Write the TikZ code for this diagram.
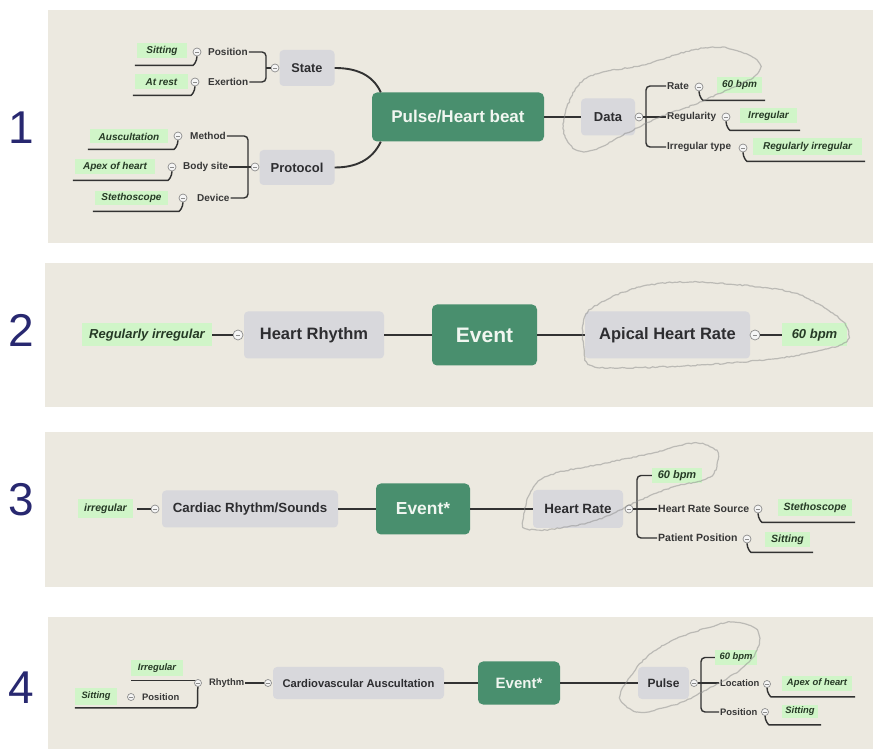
\documentclass[tikz,border=0pt]{standalone}
\usepackage{fontspec}
\setmainfont{Liberation Sans}
\usepackage{tikz}
\usetikzlibrary{positioning, calc, decorations.pathmorphing}
\definecolor{parch}{RGB}{236, 233, 224}
\definecolor{hubgreen}{RGB}{73, 143, 110}
\definecolor{hubtext}{RGB}{240, 246, 240}
\definecolor{topicgray}{RGB}{216, 216, 220}
\definecolor{topictext}{RGB}{45, 45, 48}
\definecolor{leaftext}{RGB}{55, 55, 55}
\definecolor{valgreen}{RGB}{208, 245, 200}
\definecolor{valtext}{RGB}{38, 58, 38}
\definecolor{linkgray}{RGB}{50, 50, 50}
\definecolor{knobgray}{RGB}{140, 140, 140}
\definecolor{digitblue}{RGB}{40, 40, 112}
\newcommand{\fz}[1]{\fontsize{#1}{#1}\selectfont}
\tikzset{
  panel/.style={fill=parch},
  hub/.style={rounded corners=5pt, fill=hubgreen, text=hubtext, inner sep=0pt,
              font=\bfseries\fz{#1}},
  topic/.style={rounded corners=4pt, fill=topicgray, text=topictext, inner sep=0pt,
                font=\bfseries\fz{#1}},
  leaf/.style={text=leaftext, inner sep=1pt, font=\bfseries\fz{#1}},
  val/.style={fill=valgreen, text=valtext, inner sep=0pt, font=\bfseries\itshape\fz{#1}},
  knob/.style={circle, draw=knobgray, fill=white!92!gray, line width=0.7pt,
               minimum size=#1, inner sep=0pt,
               path picture={\draw[knobgray, line width=0.6pt]
                 ($(path picture bounding box.west)!0.28!(path picture bounding box.east)$) --
                 ($(path picture bounding box.west)!0.72!(path picture bounding box.east)$);}},
  spine/.style={draw=linkgray, line width=1.9pt},
  twig/.style={draw=linkgray, line width=1.4pt, rounded corners=4pt},
  scrib/.style={draw=black!45, line width=1.2pt, opacity=0.5, decorate,
                decoration={random steps, segment length=2.5pt, amplitude=0.6pt}},
  digit/.style={text=digitblue, font=\fz{46}},
}
\begin{document}
\begin{tikzpicture}[x=1pt, y=1pt]
  \useasboundingbox (0,0) rectangle (877,749);
  \fill[white] (0,0) rectangle (877,749);

  % ---------- panel 1
  \fill[panel] (48,506) rectangle (873,739);
  \node[digit] (n1) at (21,621) {1};
  \node[hub=17, minimum width=172pt, minimum height=49pt] (pulse) at (458,632) {Pulse/Heart beat};
  \node[topic=12.7, minimum width=55pt, minimum height=36pt] (state) at (307,681) {State};
  \node[topic=13, minimum width=75pt, minimum height=35pt] (proto) at (297,581.5) {Protocol};
  \node[topic=13, minimum width=54pt, minimum height=37pt] (data) at (608,632) {Data};
  \draw[spine] (state.east) to[out=0, in=115] ($(pulse.north west)+(9,0)$);
  \draw[spine] (proto.east) to[out=0, in=-115] ($(pulse.south west)+(9,0)$);
  \draw[spine] (pulse) -- (data);
  % state branch
  \node[knob=8pt] (kstate) at (275,681) {};
  \coordinate (bstate) at (266,681);
  \node[leaf=10, anchor=west] (pos1) at (207,697) {Position};
  \node[leaf=10, anchor=west] (exer1) at (207,667) {Exertion};
  \draw[twig] (pos1.east) -| (bstate) |- (exer1.east);
  \draw[twig] (bstate) -- (kstate.west);
  \node[knob=8pt] (kpos1) at (197,697) {};
  \node[knob=8pt] (kexer1) at (195,667) {};
  \node[val=10, minimum width=50pt, minimum height=15pt] (sit1) at (162,698.5) {Sitting};
  \node[val=10, minimum width=53pt, minimum height=15pt] (rest1) at (161.5,667) {At rest};
  % protocol branch
  \node[knob=8pt] (kproto) at (255,582) {};
  \coordinate (bproto) at (248,582);
  \node[leaf=10, anchor=west] (meth1) at (189,613) {Method};
  \node[leaf=10, anchor=west] (site1) at (182,582) {Body site};
  \node[leaf=10, anchor=west] (dev1) at (196,551) {Device};
  \draw[twig] (meth1.east) -| (bproto) |- (dev1.east);
  \draw[twig] (site1.east) -- (kproto.west);
  \node[knob=8pt] (kmeth1) at (178,613) {};
  \node[knob=8pt] (ksite1) at (172,582) {};
  \node[knob=8pt] (kdev1) at (183,551) {};
  \node[val=10, minimum width=78pt, minimum height=14pt] (ausc1) at (129,612.5) {Auscultation};
  \node[val=10, minimum width=80pt, minimum height=15pt] (apex1) at (115,582) {Apex of heart};
  \node[val=10, minimum width=73pt, minimum height=14pt] (steth1) at (131.5,551) {Stethoscope};
  % data branch
  \node[knob=8pt] (kdata) at (639,632) {};
  \coordinate (bdata) at (646,632);
  \node[leaf=10, anchor=west] (rate1) at (666,663) {Rate};
  \node[leaf=10, anchor=west] (regul1) at (666,632) {Regularity};
  \node[leaf=10, anchor=west] (irrt1) at (666,602) {Irregular type};
  \draw[twig] (rate1.west) -| (bdata) |- (irrt1.west);
  \draw[twig] (kdata.east) -- (regul1.west);
  \node[knob=8pt] (krate1) at (699,662) {};
  \node[knob=8pt] (kregul1) at (726,632) {};
  \node[knob=8pt] (kirrt1) at (743,601) {};
  \node[val=10, minimum width=45pt, minimum height=16pt] (bpm1) at (739.5,664) {60 bpm};
  \node[val=10, minimum width=57pt, minimum height=15pt] (irr1) at (768.5,633.5) {Irregular};
  \node[val=10, minimum width=109pt, minimum height=17pt] (regirr1) at (807.5,602.5) {Regularly irregular};

  % ---------- panel 2
  \fill[panel] (45,342) rectangle (873,486);
  \node[digit] (n2) at (21,419) {2};
  \node[hub=21, minimum width=105pt, minimum height=61pt] (ev2) at (484.5,414) {Event};
  \node[topic=16.5, minimum width=140pt, minimum height=47pt] (rhy2) at (314,414) {Heart Rhythm};
  \node[topic=16.5, minimum width=165pt, minimum height=47pt] (ahr2) at (667.5,414) {Apical Heart Rate};
  \node[knob=10pt] (krhy2) at (238,414) {};
  \node[knob=10pt] (kahr2) at (755,414) {};
  \node[val=13, minimum width=130pt, minimum height=23pt] (ri2) at (147,414) {Regularly irregular};
  \node[val=13, minimum width=65pt, minimum height=23pt] (bpm2) at (814.5,414) {60 bpm};
  \draw[spine] (rhy2) -- (ev2);
  \draw[spine] (ev2) -- (ahr2);
  \draw[spine] (krhy2) -- (ri2);
  \draw[spine] (kahr2) -- (bpm2);

  % ---------- panel 3
  \fill[panel] (45,162) rectangle (873,317);
  \node[digit] (n3) at (21,249) {3};
  \node[hub=17.4, minimum width=94pt, minimum height=51pt] (ev3) at (423,240) {Event*};
  \node[topic=13.3, minimum width=176pt, minimum height=37pt] (crs3) at (250,240) {Cardiac Rhythm/Sounds};
  \node[topic=13.4, minimum width=90pt, minimum height=38pt] (hr3) at (578,240) {Heart Rate};
  \node[knob=8pt] (kcrs3) at (155,240) {};
  \node[val=10.5, minimum width=55pt, minimum height=19pt] (irr3) at (105.5,240) {irregular};
  \draw[spine] (crs3) -- (ev3);
  \draw[spine] (ev3) -- (hr3);
  \draw[twig] (kcrs3.west) -- ([xshift=4pt]irr3.east);
  \node[knob=8pt] (khr3) at (629,240) {};
  \coordinate (bhr3) at (637,240);
  \node[val=11, minimum width=50pt, minimum height=15pt] (bpm3) at (677,273.5) {60 bpm};
  \node[leaf=10.5, anchor=west] (hrs3) at (657,240) {Heart Rate Source};
  \node[leaf=10.5, anchor=west] (pp3) at (657,211) {Patient Position};
  \draw[twig] (bpm3.west) -| (bhr3) |- (pp3.west);
  \draw[twig] (khr3.east) -- (hrs3.west);
  \node[knob=8pt] (khrs3) at (758,240) {};
  \node[knob=8pt] (kpp3) at (747,210) {};
  \node[val=10.5, minimum width=74pt, minimum height=17pt] (steth3) at (815,241.5) {Stethoscope};
  \node[val=10.5, minimum width=45pt, minimum height=15pt] (sit3) at (787.5,209.5) {Sitting};

  % ---------- panel 4
  \fill[panel] (48,0) rectangle (873,132);
  \node[digit] (n4) at (21,61) {4};
  \node[hub=15, minimum width=82pt, minimum height=43pt] (ev4) at (519,66) {Event*};
  \node[topic=11.2, minimum width=171pt, minimum height=32pt] (ca4) at (358.5,66) {Cardiovascular Auscultation};
  \node[topic=12, minimum width=51pt, minimum height=32pt] (pul4) at (663.5,66) {Pulse};
  \draw[spine] (ca4) -- (ev4);
  \draw[spine] (ev4) -- (pul4);
  \node[knob=7pt] (kca4) at (268,66) {};
  \node[leaf=9.4, anchor=west] (rhy4) at (208,66) {Rhythm};
  \draw[twig] (rhy4.east) -- (kca4.west);
  \node[knob=7pt] (krhy4) at (198,66) {};
  \node[val=9.4, minimum width=52pt, minimum height=16pt] (irr4) at (157,81) {Irregular};
  \node[leaf=9.4, anchor=west] (pos4) at (141,52) {Position};
  \node[knob=7pt] (kpos4) at (131,52) {};
  \node[val=9.3, minimum width=42pt, minimum height=17pt] (sit4) at (96,52.5) {Sitting};
  \draw[twig] (krhy4.north west) -- (krhy4.north west -| irr4.west);
  \draw[twig] (krhy4.south) to[out=-100, in=0] ++(-7,-21) coordinate (h) -- (h -| sit4.west);
  \node[knob=7pt] (kpul4) at (694,66) {};
  \coordinate (bpul4) at (701,66);
  \node[val=9.4, minimum width=42pt, minimum height=15pt] (bpm4) at (736,91.5) {60 bpm};
  \node[leaf=9.4, anchor=west] (loc4) at (719,66) {Location};
  \node[leaf=9.4, anchor=west] (pos4r) at (719,37) {Position};
  \draw[twig] (bpm4.west) -| (bpul4) |- (pos4r.west);
  \draw[twig] (kpul4.east) -- (loc4.west);
  \node[knob=7pt] (kloc4) at (767,65) {};
  \node[knob=7pt] (kpos4r) at (765,37) {};
  \node[val=9.4, minimum width=70pt, minimum height=15pt] (apex4) at (817,66) {Apex of heart};
  \node[val=9.4, minimum width=36pt, minimum height=13pt] (sit4r) at (800,37.5) {Sitting};

  % underlines of the values, left and right
  \foreach \k/\v in {kpos1/sit1, kexer1/rest1, kmeth1/ausc1, ksite1/apex1, kdev1/steth1}
    \draw[twig] (\k.south) to[out=-90, in=0] ++(-8,-9) coordinate (h) -- ($(h -| \v.west)+(-2,0)$);
  \foreach \k/\v in {krate1/bpm1, kregul1/irr1, kirrt1/regirr1, khrs3/steth3, kpp3/sit3, kloc4/apex4, kpos4r/sit4r}
    \draw[twig] (\k.south) to[out=-90, in=180] ++(8,-9) coordinate (h) -- ($(h -| \v.east)+(3,0)$);

  % pencil loops
  \draw[scrib] plot[smooth cycle, tension=0.6] coordinates {(577,662) (600,676) (643,684) (693,699)
    (727,701) (757,689) (758,676) (743,666) (727,659) (693,644) (660,632) (627,616) (593,599)
    (573,601) (563,625)};
  \draw[scrib] plot[smooth cycle, tension=0.6] coordinates {(600,446) (640,462) (690,467) (760,462)
    (800,454) (835,434) (848,419) (840,404) (780,391) (700,384) (620,381) (590,384) (584,400)
    (584,430)};
  \draw[scrib] plot[smooth cycle, tension=0.6] coordinates {(540,269) (607,286) (653,296) (693,306)
    (713,301) (718,292) (710,272) (673,262) (640,249) (620,239) (597,229) (567,222) (537,219)
    (523,226)};
  \draw[scrib] plot[smooth cycle, tension=0.6] coordinates {(620,51) (637,37) (667,42) (693,52)
    (740,79) (757,99) (757,119) (733,127) (707,121) (673,109) (647,92) (630,72)};
\end{tikzpicture}
\end{document}
